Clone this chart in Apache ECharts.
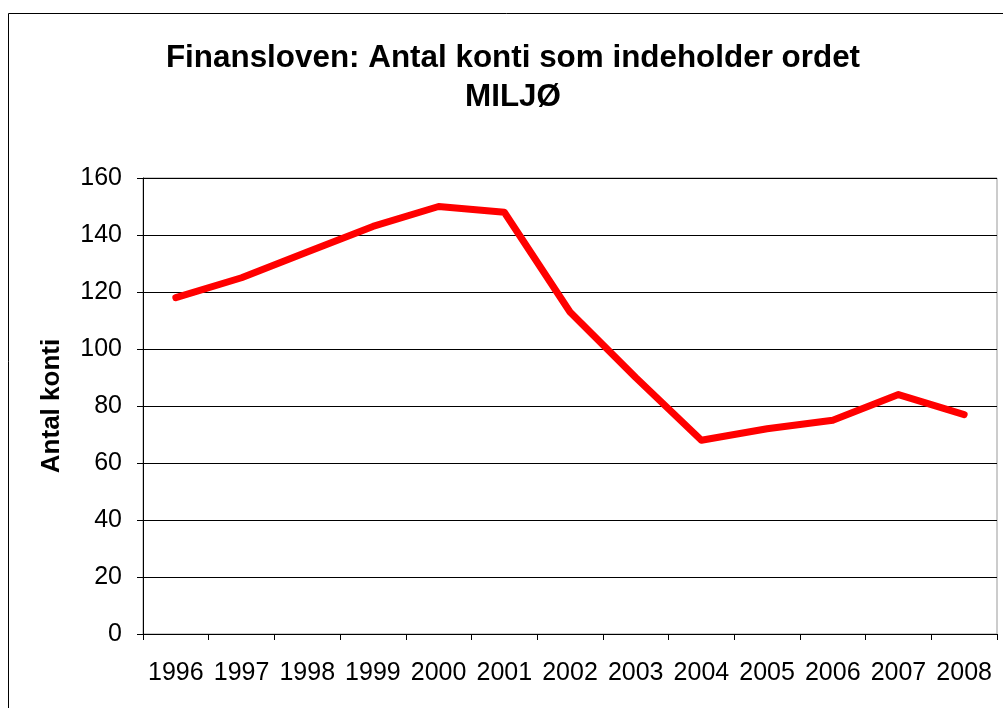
<!DOCTYPE html>
<html><head><meta charset="utf-8">
<script src="https://cdn.jsdelivr.net/npm/echarts@6/dist/echarts.min.js"></script>
<style>html,body{margin:0;padding:0;background:#fff}#c{width:1003px;height:708px}</style>
</head><body><div id="c"></div>
<script>
const categories = ['1996','1997','1998','1999','2000','2001','2002','2003','2004','2005','2006','2007','2008'];
const values = [118,125,134,143,150,148,113,90,68,72,75,84,77];
const titleText = 'Finansloven: Antal konti som indeholder ordet\nMILJØ';
const yAxisName = 'Antal konti';

const chart = echarts.init(document.getElementById('c'));
chart.setOption({
  animation: false,
  backgroundColor: '#fff',
  title: {
    text: titleText, left: 508, top: 34, textAlign: 'center',
    textStyle: {fontFamily: 'Liberation Sans', fontSize: 31.4, fontWeight: 'bold', color: '#000', lineHeight: 39}
  },
  graphic: [{type: 'rect', shape: {x: 8.5, y: 13.5, width: 1200, height: 1000}, style: {fill: null, stroke: '#000', lineWidth: 1}, silent: true, z: -1}],
  grid: {left: 143, top: 178, right: 6, bottom: 74, show: true, borderColor: '#999', borderWidth: 1, backgroundColor: 'transparent'},
  xAxis: {
    type: 'category', data: categories, boundaryGap: true,
    axisLine: {lineStyle: {color: '#000', width: 1}},
    axisTick: {show: true, length: 6, lineStyle: {color: '#000'}},
    axisLabel: {fontFamily: 'Liberation Sans', fontSize: 25, color: '#000', margin: 27, interval: 0}
  },
  yAxis: {
    type: 'value', min: 0, max: 160, interval: 20,
    name: yAxisName, nameLocation: 'middle', nameGap: 78, nameRotate: 90,
    nameTextStyle: {fontFamily: 'Liberation Sans', fontSize: 26, fontWeight: 'bold', color: '#000'},
    axisLine: {show: true, lineStyle: {color: '#000', width: 1}},
    axisTick: {show: true, length: 6, lineStyle: {color: '#000'}},
    axisLabel: {fontFamily: 'Liberation Sans', fontSize: 25, color: '#000', margin: 21},
    splitLine: {lineStyle: {color: '#000', width: 1}}
  },
  series: [{
    type: 'line', data: values, symbol: 'none',
    lineStyle: {color: '#ff0000', width: 7, cap: 'round', join: 'round'}
  }]
});
</script></body></html>
